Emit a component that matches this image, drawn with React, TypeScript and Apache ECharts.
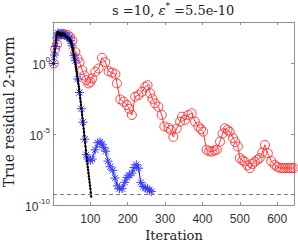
import React, { useEffect, useRef } from "react";
import * as echarts from "echarts";

// ---- data (iteration, log10 of true residual 2-norm) ----
const redIter = [2, 6, 11, 18, 25, 32, 40, 46, 52, 60, 66, 71, 78, 84, 89, 95, 100, 105, 113, 122, 131, 140, 149, 158, 167, 171, 180, 189, 198, 204, 211, 220, 229, 238, 247, 253, 260, 266, 273, 282, 291, 298, 309, 315, 322, 331, 340, 345, 353, 362, 371, 380, 389, 396, 402, 411, 418, 425, 432, 438, 447, 454, 460, 467, 473, 482, 488, 495, 500, 507, 513, 520, 527, 534, 540, 547, 553, 560, 567, 575, 584, 593, 600, 607, 614, 620, 627, 633, 639, 645];
const redLog = [0.0, 1.0, 1.35, 2.05, 2.1, 2.05, 2.0, 1.85, 1.6, 0.8, 0.35, 0.07, -0.47, -0.85, -1.18, -1.41, -1.3, -1.06, -0.59, -0.35, 0.4, 0.1, -0.55, -0.65, -0.75, -1.41, -2.54, -2.7, -2.94, -3.2, -3.64, -2.35, -2.23, -2.0, -1.65, -1.53, -2.11, -2.5, -2.82, -3.06, -3.64, -4.45, -4.55, -4.7, -5.19, -4.6, -4.11, -3.76, -3.99, -3.64, -3.52, -4.11, -4.46, -4.65, -4.82, -6.1, -6.2, -6.23, -6.15, -6.1, -5.52, -4.95, -4.58, -4.7, -4.82, -5.28, -5.55, -5.87, -6.69, -6.85, -6.93, -7.2, -7.39, -7.1, -6.93, -6.8, -6.69, -6.3, -5.75, -6.34, -6.9, -7.16, -7.3, -7.39, -7.39, -7.39, -7.39, -7.39, -7.39, -7.39];

const blueIter = [1, 4, 7, 10, 13, 16, 19, 22, 25, 28, 31, 35, 39, 43, 47, 51, 56, 60, 66, 71, 76, 80, 85, 89, 94, 100, 105, 113, 120, 126, 131, 136, 141, 147, 153, 160, 166, 172, 178, 185, 192, 198, 204, 211, 217, 223, 229, 235, 241, 247, 253, 258, 263];
const blueLog = [0.0, 0.6, 1.2, 1.8, 2.15, 2.1, 2.05, 2.0, 2.1, 2.05, 2.0, 2.0, 1.9, 1.8, 1.6, 1.25, 0.55, 0.2, -1.1, -2.05, -3.2, -4.15, -5.35, -6.45, -6.75, -6.85, -6.75, -6.1, -5.6, -5.55, -5.7, -5.95, -6.2, -6.9, -7.3, -7.55, -8.1, -8.65, -8.85, -8.85, -8.4, -8.05, -7.9, -7.75, -7.35, -7.15, -7.4, -8.4, -8.7, -8.8, -8.85, -8.95, -9.05];

const blackIter = [1, 2, 3, 4, 5, 6, 7, 8, 9, 10, 11, 12, 13, 14, 15, 16, 17, 18, 19, 20, 21, 22, 23, 24, 25, 26, 27, 28, 29, 30, 31, 32, 33, 34, 35, 36, 37, 38, 39, 40, 41, 42, 43, 44, 45, 46, 47, 48, 49, 50, 51, 52, 53, 54, 55, 56, 57, 58, 59, 60, 61, 62, 63, 64, 65, 66, 67, 68, 69, 70, 71, 72, 73, 74, 75, 76, 77, 78, 79, 80, 81, 82, 83, 84, 85, 86, 87, 88, 89, 90, 91, 92, 93, 94, 95, 96, 97, 98, 99, 100, 101, 102];
const blackLog = [0.0, 0.3, 0.55, 0.8, 1.0, 1.25, 1.45, 1.65, 1.85, 2.0, 2.1, 2.2, 2.2, 2.15, 2.1, 2.05, 2.1, 2.15, 2.1, 2.0, 1.95, 2.0, 2.1, 2.15, 2.1, 2.05, 2.0, 2.05, 2.1, 2.1, 2.05, 2.0, 1.95, 1.95, 1.9, 1.9, 1.88, 1.85, 1.82, 1.8, 1.78, 1.75, 1.72, 1.7, 1.68, 1.65, 1.6, 1.52, 1.44, 1.35, 1.24, 1.12, 1.0, 0.85, 0.7, 0.55, 0.4, 0.25, 0.1, -0.06, -0.23, -0.4, -0.57, -0.73, -0.9, -1.08, -1.27, -1.45, -1.63, -1.82, -2.0, -2.23, -2.47, -2.7, -2.93, -3.17, -3.4, -3.63, -3.87, -4.1, -4.35, -4.6, -4.85, -5.1, -5.35, -5.6, -5.87, -6.13, -6.4, -6.63, -6.87, -7.1, -7.32, -7.53, -7.75, -7.97, -8.18, -8.4, -8.62, -8.85, -9.12, -9.4];

const epsStar = 5.5e-10;
const xTicks = [100, 200, 300, 400, 500, 600];
const yTickExps = [-10, -5, 0];

const SERIF = "DejaVu Serif";
const SANS = "Liberation Sans";

const asterisk =
  "path://M5,0L5,10M0,5L10,5M1.6,1.6L8.4,8.4M1.6,8.4L8.4,1.6";

export default function App() {
  const ref = useRef<HTMLDivElement>(null);
  useEffect(() => {
    if (!ref.current) return;
    const chart = echarts.init(ref.current, undefined, { renderer: "svg" });
    const pair = (xs: number[], ys: number[]) => xs.map((x, i) => [x, ys[i]]);
    const axisColor = "#8f8f8f";
    const labelColor = "#333";
    const boxAxis = {
      axisLine: { show: true, onZero: false, lineStyle: { color: axisColor, width: 1 } },
      axisTick: { show: true, inside: true, length: 3, lineStyle: { color: axisColor } },
      splitLine: { show: false },
    };
    chart.setOption({
      animation: false,
      backgroundColor: "#fff",
      title: {
        text: "{t|s =10, }{e|ε}{s|*}{t| =5.5e-10}",
        left: 112,
        top: 1,
        padding: 0,
        textStyle: {
          fontWeight: "normal",
          rich: {
            t: { fontFamily: SERIF, fontSize: 13, fontWeight: "normal", color: "#222", lineHeight: 16, verticalAlign: "bottom" },
            e: { fontFamily: SERIF, fontSize: 13, fontWeight: "normal", fontStyle: "italic", color: "#222", lineHeight: 16, verticalAlign: "bottom" },
            s: { fontFamily: SERIF, fontSize: 9, fontWeight: "normal", color: "#222", lineHeight: 16, verticalAlign: "top" },
          },
        },
      },
      grid: { left: 53, right: 4, top: 22, bottom: 39, containLabel: false },
      xAxis: [
        {
          type: "value",
          min: 0,
          max: 645,
          interval: 100,
          ...boxAxis,
          axisLabel: {
            color: labelColor,
            fontFamily: SANS,
            fontSize: 12,
            margin: 8,
            formatter: (v: number) => (xTicks.includes(v) ? String(v) : ""),
          },
        },
        {
          type: "value",
          position: "top",
          min: 0,
          max: 645,
          interval: 100,
          ...boxAxis,
          axisLabel: { show: false },
        },
      ],
      yAxis: [
        {
          type: "value",
          min: -10,
          max: 2.93,
          interval: 5,
          ...boxAxis,
          axisLabel: {
            color: labelColor,
            margin: 3,
            formatter: (v: number) => (yTickExps.includes(v) ? `{a|10}{b|${v}}` : ""),
            rich: {
              a: { fontFamily: SANS, fontSize: 12, color: labelColor, lineHeight: 16, verticalAlign: "bottom" },
              b: { fontFamily: SANS, fontSize: 8, color: labelColor, lineHeight: 16, verticalAlign: "top" },
            },
          },
        },
        {
          type: "value",
          position: "right",
          min: -10,
          max: 2.93,
          interval: 5,
          ...boxAxis,
          axisLabel: { show: false },
        },
      ],
      graphic: [
        {
          type: "text",
          x: 9,
          y: 112,
          rotation: Math.PI / 2,
          style: {
            text: "True residual 2-norm",
            fontFamily: SERIF,
            fontSize: 14,
            fill: "#222",
            align: "center",
            verticalAlign: "middle",
          },
        },
        {
          type: "text",
          x: 174,
          y: 235,
          style: {
            text: "Iteration",
            fontFamily: SERIF,
            fontSize: 13,
            fill: "#222",
            align: "center",
            verticalAlign: "middle",
          },
        },
      ],
      series: [
        {
          name: "red",
          type: "line",
          data: pair(redIter, redLog),
          symbol: "circle",
          symbolSize: 9,
          showAllSymbol: true,
          lineStyle: { color: "#ff0000", width: 0.8 },
          itemStyle: { color: "transparent", borderColor: "#ff2a2a", borderWidth: 0.9 },
          markLine: {
            silent: true,
            symbol: "none",
            label: { show: false },
            lineStyle: { type: [4, 3], color: "#7a7a7a", width: 1 },
            data: [{ yAxis: Math.log10(epsStar) }],
          },
        },
        {
          name: "blue",
          type: "line",
          data: pair(blueIter, blueLog),
          symbol: asterisk,
          symbolSize: 9,
          showAllSymbol: true,
          lineStyle: { color: "#0000ff", width: 1 },
          itemStyle: { color: "#3a3aff", borderColor: "#3a3aff", borderWidth: 1 },
        },
        {
          name: "black",
          type: "line",
          data: pair(blackIter, blackLog),
          symbol: "circle",
          symbolSize: 2.5,
          showAllSymbol: true,
          lineStyle: { color: "#000", width: 1.2 },
          itemStyle: { color: "#000" },
        },
      ],
    });
    return () => chart.dispose();
  }, []);
  return (
    <div
      ref={ref}
      style={{ position: "fixed", left: 0, top: 0, width: 298, height: 244, background: "#fff" }}
    />
  );
}
